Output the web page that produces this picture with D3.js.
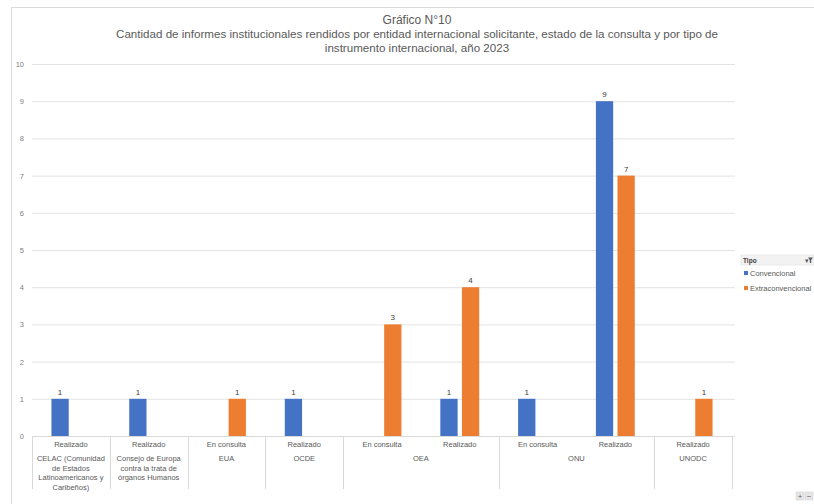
<!DOCTYPE html>
<html><head><meta charset="utf-8">
<script src="https://cdn.jsdelivr.net/npm/d3@7"></script>
<style>body{margin:0;background:#fff;}svg{display:block;font-family:"Liberation Sans",Arial,sans-serif;}</style>
</head><body><svg id="c" width="814" height="504"></svg>
<script>
const groups = ["CELAC (Comunidad de Estados Latinoamericanos y Caribeños)", "Consejo de Europa contra la trata de órganos Humanos", "EUA", "OCDE", "OEA", "ONU", "UNODC"];
const groupLines = [["CELAC (Comunidad","de Estados","Latinoamericanos y","Caribeños)"],["Consejo de Europa","contra la trata de","órganos Humanos"],["EUA"],["OCDE"],["OEA"],["ONU"],["UNODC"]];
const slotGroup = [0,1,2,3,4,4,5,5,6];
const slotStatus = ["Realizado","Realizado","En consulta","Realizado","En consulta","Realizado","En consulta","Realizado","Realizado"];
const seriesNames = ["Convencional","Extraconvencional"];
const convencional = [1,1,null,1,null,1,1,9,null];
const extraconvencional = [null,null,1,null,3,4,null,7,1];
const yTicks = [0,1,2,3,4,5,6,7,8,9,10];
const colors = ["#4472C4","#ED7D31"];

const svg = d3.select("#c");
const x0 = 32, x1 = 732, yTop = 64, yBot = 436;
const x = d3.scaleBand().domain(d3.range(slotStatus.length)).range([x0,x1]).paddingInner(0).paddingOuter(0);
const xs = d3.scaleBand().domain(seriesNames).range([0,x.bandwidth()]).paddingInner(0.2).paddingOuter(0.9);
const y = d3.scaleLinear().domain([0,10]).range([yBot,yTop]);

// outer frame
svg.append("line").attr("x1",11.5).attr("x2",11.5).attr("y1",7).attr("y2",504).attr("stroke","#d9d9d9");
svg.append("line").attr("x1",11).attr("x2",814).attr("y1",7.5).attr("y2",7.5).attr("stroke","#d9d9d9");

// title
const tc = "#595959";
svg.append("text").attr("x",417).attr("y",24).attr("text-anchor","middle").attr("font-size",12).attr("fill",tc).text("Gráfico N°10");
svg.append("text").attr("x",417).attr("y",38).attr("text-anchor","middle").attr("font-size",11.6).attr("fill",tc).text("Cantidad de informes institucionales rendidos por entidad internacional solicitante, estado de la consulta y por tipo de");
svg.append("text").attr("x",417).attr("y",52).attr("text-anchor","middle").attr("font-size",11.6).attr("fill",tc).text("instrumento internacional, año 2023");

// grid
const yAxis = d3.axisLeft(y).tickValues(yTicks).tickSize(-(x1-x0+3)).tickPadding(8).tickFormat(d3.format("d"));
const ga = svg.append("g").attr("transform",`translate(${x0},0)`).call(yAxis);
ga.select(".domain").remove();
ga.selectAll(".tick line").attr("stroke","#e3e3e3");
ga.selectAll(".tick text").attr("fill","#7f7f7f").attr("font-size",7.5).attr("font-family","Liberation Sans, Arial, sans-serif");

// baseline
svg.append("line").attr("x1",x0).attr("x2",x1).attr("y1",yBot+0.5).attr("y2",yBot+0.5).attr("stroke","#d9d9d9");

// bars
const seriesData = [convencional, extraconvencional];
seriesData.forEach((vals,si)=>{
  const g = svg.append("g");
  vals.forEach((v,i)=>{
    if(v==null) return;
    const bx = x(i)+xs(seriesNames[si]);
    g.append("rect").attr("x",bx).attr("y",y(v)).attr("width",xs.bandwidth()).attr("height",y(0)-y(v)).attr("fill",colors[si]);
    g.append("text").attr("x",bx+xs.bandwidth()/2).attr("y",y(v)-4).attr("text-anchor","middle").attr("font-size",8).attr("fill","#404040").text(v);
  });
});

// category axis
const ax = svg.append("g");
slotStatus.forEach((s,i)=>{
  ax.append("text").attr("x",x(i)+x.bandwidth()/2).attr("y",447).attr("text-anchor","middle").attr("font-size",7.5).attr("fill","#595959").text(s);
});
// group boundaries
const bounds = [];
slotGroup.forEach((g,i)=>{ if(i===0 || slotGroup[i-1]!==g) bounds.push(i); });
bounds.forEach(i=>{
  ax.append("line").attr("x1",Math.round(x(i))+0.5).attr("x2",Math.round(x(i))+0.5).attr("y1",yBot).attr("y2",489).attr("stroke","#d9d9d9");
});
ax.append("line").attr("x1",x1+0.5).attr("x2",x1+0.5).attr("y1",yBot).attr("y2",489).attr("stroke","#d9d9d9");
groups.forEach((gname,gi)=>{
  const idx = slotGroup.map((g,i)=>g===gi?i:-1).filter(i=>i>=0);
  const cx = (x(idx[0]) + x(idx[idx.length-1]) + x.bandwidth())/2;
  const t = ax.append("text").attr("x",cx).attr("y",461).attr("text-anchor","middle").attr("font-size",7.5).attr("fill","#595959");
  groupLines[gi].forEach((ln,k)=>{
    t.append("tspan").attr("x",cx).attr("dy",k===0?0:9.5).text(ln);
  });
});

// legend
const lg = svg.append("g").attr("transform","translate(741,255)");
lg.append("rect").attr("x",0).attr("y",0).attr("width",73).attr("height",10).attr("fill","#f2f2f2").attr("stroke","#d9d9d9").attr("stroke-width",0.5);
lg.append("text").attr("x",2).attr("y",8).attr("font-size",6.5).attr("fill","#404040").attr("font-weight","bold").text("Tipo");
lg.append("text").attr("x",64).attr("y",8).attr("font-size",6.5).attr("fill","#595959").text("▾");
lg.append("path").attr("d","M67,2.5 L72,2.5 L70.2,5 L70.2,8 L68.8,8 L68.8,5 Z").attr("fill","#595959");
seriesNames.forEach((n,i)=>{
  const yy = 16 + i*15;
  lg.append("rect").attr("x",3).attr("y",yy).attr("width",4).attr("height",4).attr("fill",colors[i]);
  lg.append("text").attr("x",9).attr("y",yy+4.5).attr("font-size",7.5).attr("fill","#595959").text(n);
});

// zoom buttons
const zb = svg.append("g").attr("transform","translate(796,492)");
[["+",0],["−",9]].forEach(([s,dx])=>{
  zb.append("rect").attr("x",dx).attr("y",0).attr("width",8).attr("height",8).attr("fill","#e6e6e6").attr("stroke","#cfcfcf").attr("stroke-width",0.5);
  zb.append("text").attr("x",dx+4).attr("y",7).attr("text-anchor","middle").attr("font-size",8).attr("fill","#666").text(s);
});
</script></body></html>
